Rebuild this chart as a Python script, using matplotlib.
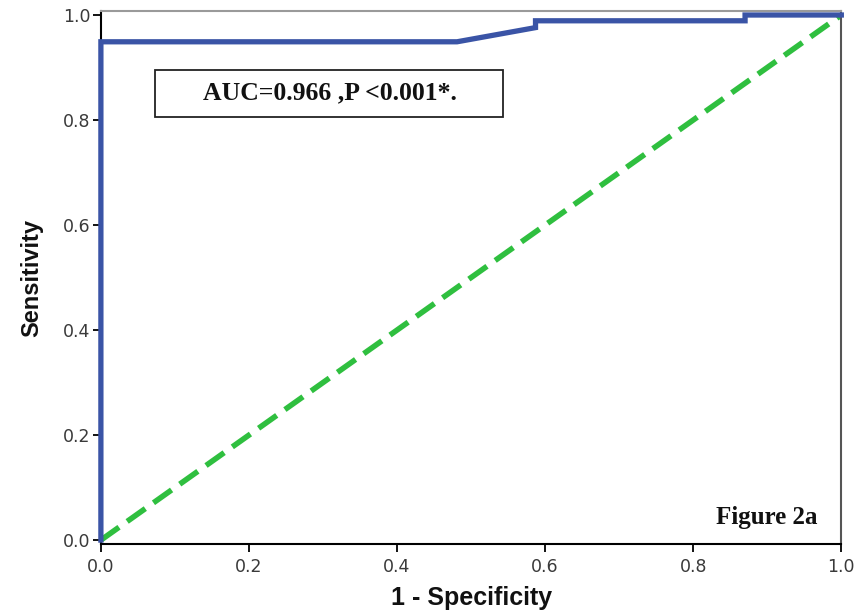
import matplotlib
matplotlib.use('Agg')
import matplotlib.pyplot as plt
from matplotlib.patches import Rectangle

# ROC curve points
fpr = [0.0, 0.0, 0.481, 0.587, 0.587, 0.870, 0.870, 1.0]
tpr = [0.0, 0.949, 0.949, 0.976, 0.989, 0.989, 1.0, 1.0]
ref_line = [0.0, 1.0]
ticks = [0.0, 0.2, 0.4, 0.6, 0.8, 1.0]
tick_labels = ['0.0', '0.2', '0.4', '0.6', '0.8', '1.0']

fig = plt.figure(figsize=(8.55, 6.12), dpi=100)
ax = fig.add_axes([0.118, 0.111, 0.866, 0.871])

ax.plot(ref_line, ref_line, color='#2fbf3f', lw=4, ls=(0, (4, 1.8)), zorder=2)
ax.plot(fpr, tpr, color='#3a54a6', lw=3.8, solid_joinstyle='miter',
        clip_on=False, zorder=3)

ax.set_xlim(0, 1)
ax.set_ylim(-0.0076, 1.0076)
ax.set_xticks(ticks)
ax.set_xticklabels(tick_labels)
ax.set_yticks(ticks)
ax.set_yticklabels(tick_labels)
ax.tick_params(direction='out', length=6, width=1.3, labelsize=12.5,
               labelcolor='#3a3a3a')
ax.tick_params(axis='x', pad=4)
ax.tick_params(axis='y', pad=1.5)
for lab in ax.get_xticklabels() + ax.get_yticklabels():
    lab.set_family('DejaVu Sans')

ax.spines['top'].set_color('#9a9a9a')
ax.spines['right'].set_color('#555555')
for s in ax.spines.values():
    s.set_linewidth(1.5)

ax.set_xlabel('1 - Specificity', fontsize=18, fontweight='bold',
              family='Liberation Sans', labelpad=7, color='#111111')
ax.set_ylabel('Sensitivity', fontsize=17, fontweight='bold',
              family='Liberation Sans', labelpad=14, color='#111111')

# boxed AUC note
ax.add_patch(Rectangle((0.073, 0.801), 0.470, 0.088, transform=ax.transAxes,
                       fc='white', ec='#222222', lw=1.3, zorder=4))
ax.text(0.310, 0.846, 'AUC=0.966 ,P <0.001*.', transform=ax.transAxes,
        fontsize=18.5, fontweight='bold', family='Liberation Serif',
        va='center', ha='center', color='#111111', zorder=5)

ax.text(0.968, 0.050, 'Figure 2a', transform=ax.transAxes,
        fontsize=18, fontweight='bold', family='Liberation Serif',
        va='center', ha='right', color='#111111')

fig.savefig('out.png', dpi=100)
